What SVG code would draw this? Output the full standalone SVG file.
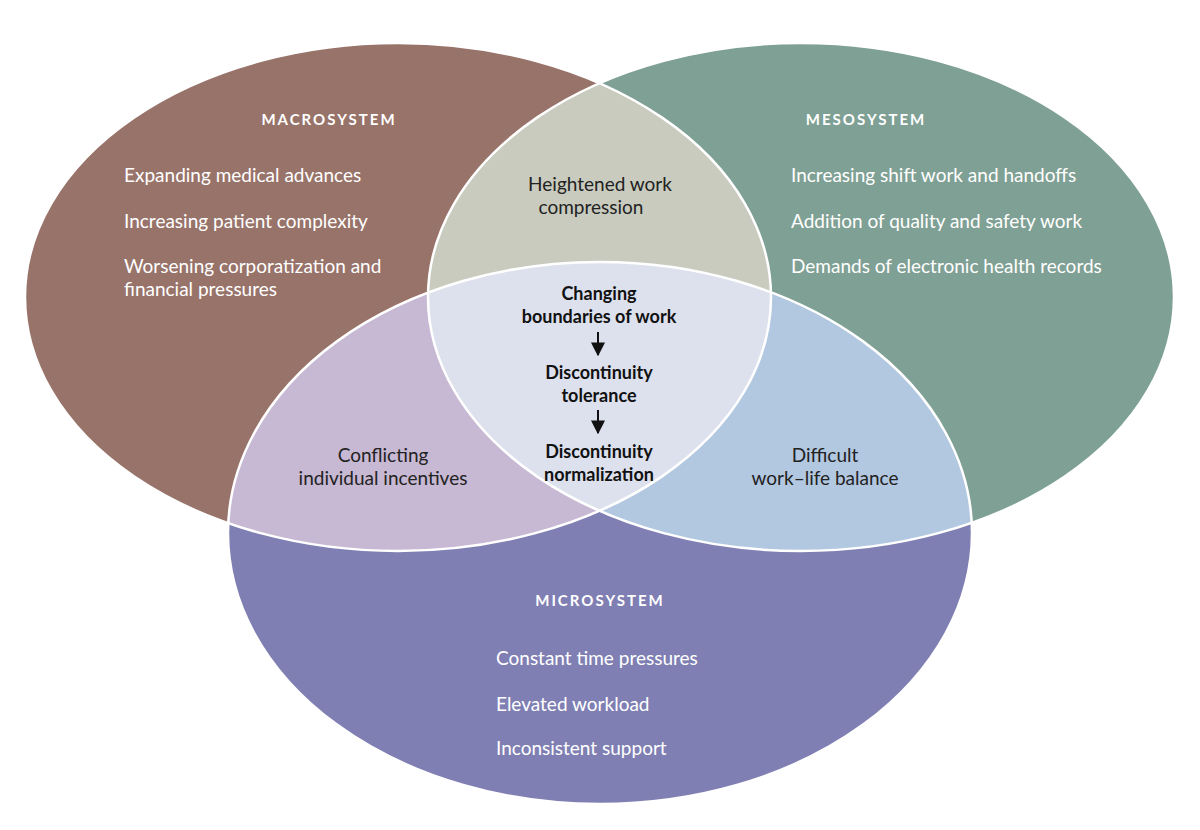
<svg xmlns="http://www.w3.org/2000/svg" width="1200" height="830" viewBox="0 0 1200 830">
<style>
.t{font-family:Lato,"Open Sans",sans-serif;font-size:19px;fill:#fff}
.h{font-family:Lato,"Open Sans",sans-serif;font-size:15px;fill:#fff;letter-spacing:2px;font-weight:bold}
.d{font-family:Lato,"Open Sans",sans-serif;font-size:19px;fill:#222}
.b{font-family:Lato,"Open Sans",sans-serif;font-size:18px;fill:#111;font-weight:bold}
.o{fill:none;stroke:#fff;stroke-width:2.5}
</style>
<defs>
<ellipse id="eA" cx="398" cy="297" rx="373" ry="254"/>
<ellipse id="eB" cx="801" cy="297" rx="373" ry="254"/>
<ellipse id="eC" cx="600" cy="533" rx="372" ry="271"/>
<clipPath id="cA"><use href="#eA"/></clipPath>
<clipPath id="cB"><use href="#eB"/></clipPath>
<clipPath id="cC"><use href="#eC"/></clipPath>
<marker id="ar" viewBox="0 0 10 10" refX="9" refY="5" markerWidth="7" markerHeight="7" orient="auto"><path d="M0,0L10,5L0,10z" fill="#111"/></marker>
</defs>
<rect width="1200" height="830" fill="#fff"/>
<g id="macro"><use href="#eA" fill="#98736A"/></g>
<g id="meso"><use href="#eB" fill="#7FA094"/></g>
<g id="micro"><use href="#eC" fill="#7F7FB3"/></g>
<g id="ab" clip-path="url(#cA)"><use href="#eB" fill="#C9CBBF"/></g>
<g id="ac" clip-path="url(#cA)"><use href="#eC" fill="#C7B8D3"/></g>
<g id="bc" clip-path="url(#cB)"><use href="#eC" fill="#B2C8E1"/></g>
<g id="abc" clip-path="url(#cA)"><g clip-path="url(#cB)"><use href="#eC" fill="#DDE1EE"/></g></g>
<g id="outlines"><use href="#eA" class="o"/><use href="#eB" class="o"/><use href="#eC" class="o"/></g>
<g id="connectors">
<line x1="598" y1="332" x2="598" y2="355" stroke="#111" stroke-width="2" marker-end="url(#ar)"/>
<line x1="598" y1="410" x2="598" y2="433" stroke="#111" stroke-width="2" marker-end="url(#ar)"/>
</g>
<g id="labels">
<text class="h" x="329" y="125" text-anchor="middle">MACROSYSTEM</text>
<text class="t" x="124" y="182">Expanding medical advances</text>
<text class="t" x="124" y="228">Increasing patient complexity</text>
<text class="t" x="124" y="273">Worsening corporatization and</text>
<text class="t" x="124" y="296">financial pressures</text>
<text class="h" x="866" y="125" text-anchor="middle">MESOSYSTEM</text>
<text class="t" x="791" y="182">Increasing shift work and handoffs</text>
<text class="t" x="791" y="228">Addition of quality and safety work</text>
<text class="t" x="791" y="273">Demands of electronic health records</text>
<text class="h" x="600" y="606" text-anchor="middle">MICROSYSTEM</text>
<text class="t" x="496" y="665">Constant time pressures</text>
<text class="t" x="496" y="711">Elevated workload</text>
<text class="t" x="496" y="755">Inconsistent support</text>
<text class="d" x="600" y="191" text-anchor="middle">Heightened work</text>
<text class="d" x="591" y="214" text-anchor="middle">compression</text>
<text class="d" x="383" y="462" text-anchor="middle">Conflicting</text>
<text class="d" x="383" y="485" text-anchor="middle">individual incentives</text>
<text class="d" x="825" y="462" text-anchor="middle">Difficult</text>
<text class="d" x="825" y="485" text-anchor="middle">work–life balance</text>
<text class="b" x="599" y="300" text-anchor="middle">Changing</text>
<text class="b" x="599" y="323" text-anchor="middle">boundaries of work</text>
<text class="b" x="599" y="379" text-anchor="middle">Discontinuity</text>
<text class="b" x="599" y="402" text-anchor="middle">tolerance</text>
<text class="b" x="599" y="458" text-anchor="middle">Discontinuity</text>
<text class="b" x="599" y="481" text-anchor="middle">normalization</text>
</g>
</svg>
